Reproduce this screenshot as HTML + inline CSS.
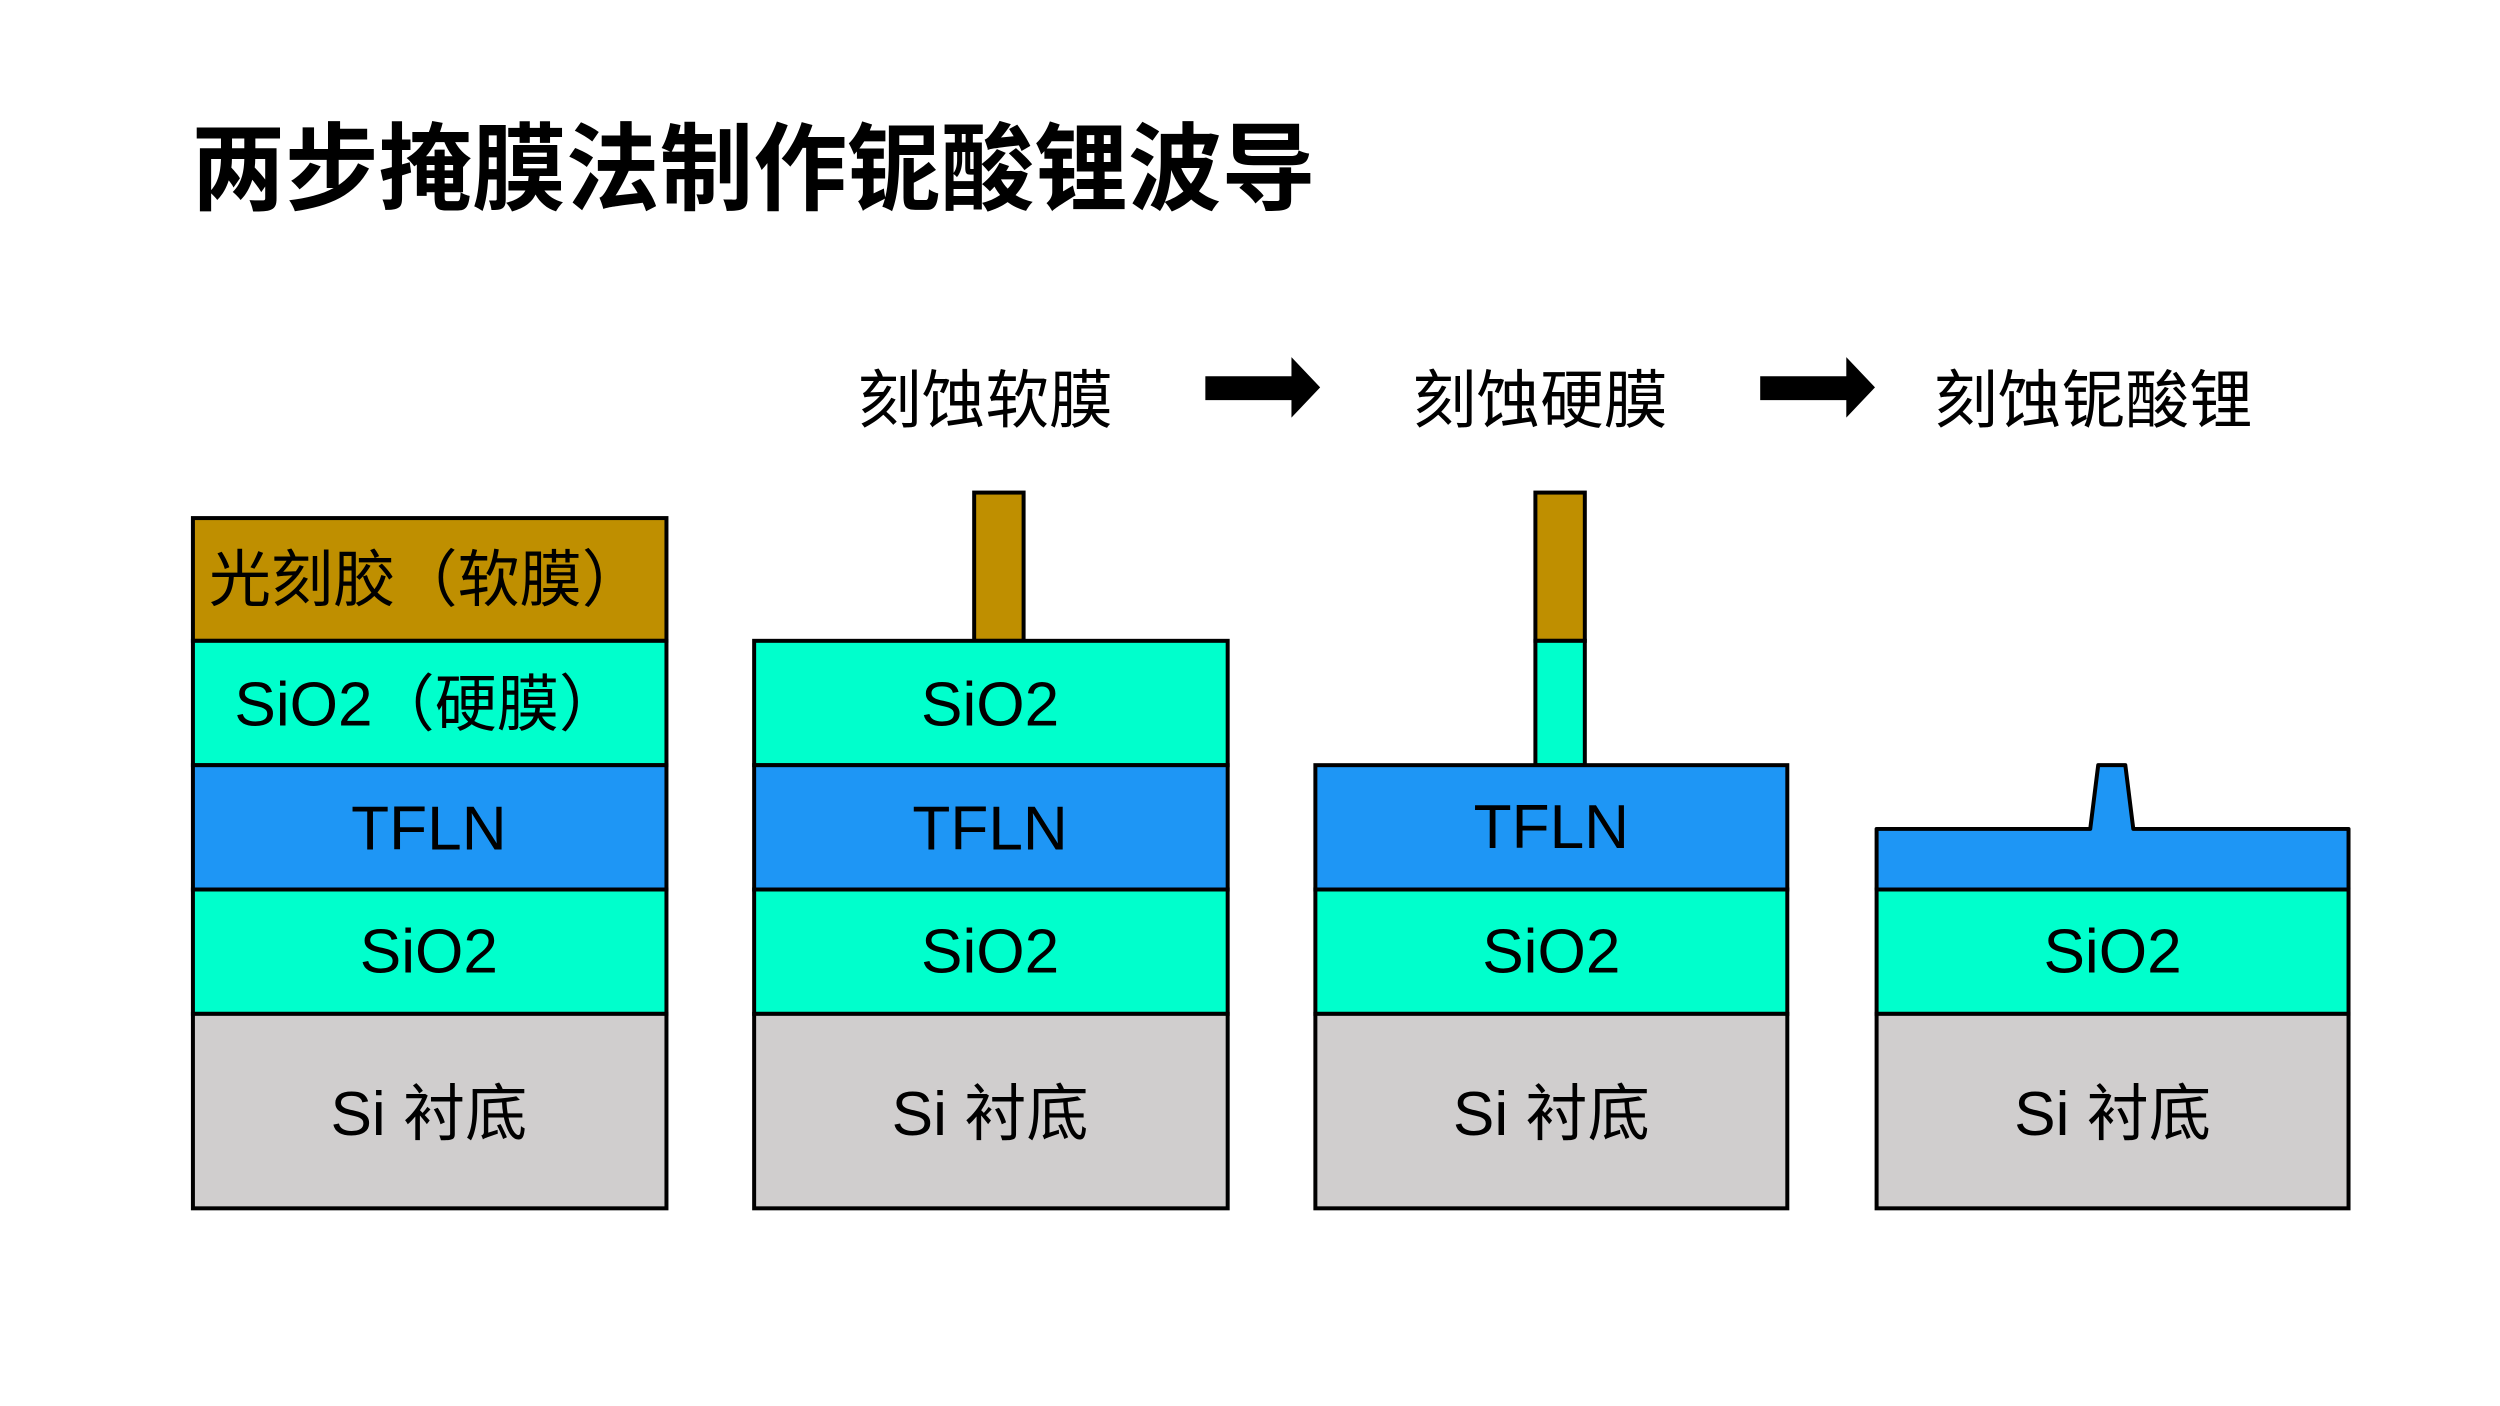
<!DOCTYPE html>
<html><head><meta charset="utf-8"><style>
html,body{margin:0;padding:0;background:#fff;}
svg{display:block;}
text{font-family:"Liberation Sans","Noto Sans CJK SC",sans-serif;}
</style></head><body>
<svg width="2500" height="1406" viewBox="0 0 1568 882" preserveAspectRatio="none" xmlns="http://www.w3.org/2000/svg">
<rect width="1568" height="882" fill="#fff"/>
<text x="120" y="127" font-size="60" font-weight="bold" textLength="705" lengthAdjust="spacingAndGlyphs" fill="#000">两步掩膜法制作铌酸锂波导</text>

<g font-size="40" fill="#000" text-anchor="middle">
<text x="618" y="265">刻蚀软膜</text>
<text x="966" y="265">刻蚀硬膜</text>
<text x="1313" y="265">刻蚀铌酸锂</text>
</g>
<polygon points="756,236 810,236 810,224 828,243 810,262 810,251 756,251" fill="#000"/>
<polygon points="1104,236 1158,236 1158,224 1176,243 1158,262 1158,251 1104,251" fill="#000"/>

<g stroke="#000" stroke-width="2.5">
<rect x="121" y="325" width="297" height="77" fill="#bf8f00"/>
<rect x="121" y="402" width="297" height="78" fill="#00ffcc"/>
<rect x="121" y="480" width="297" height="78" fill="#1e96f5"/>
<rect x="121" y="558" width="297" height="78" fill="#00ffcc"/>
<rect x="121" y="636" width="297" height="122" fill="#d0cece"/>
<rect x="611" y="309" width="31" height="93" fill="#bf8f00"/>
<rect x="473" y="402" width="297" height="78" fill="#00ffcc"/>
<rect x="473" y="480" width="297" height="78" fill="#1e96f5"/>
<rect x="473" y="558" width="297" height="78" fill="#00ffcc"/>
<rect x="473" y="636" width="297" height="122" fill="#d0cece"/>
<rect x="963" y="309" width="31" height="93" fill="#bf8f00"/>
<rect x="963" y="402" width="31" height="78" fill="#00ffcc"/>
<rect x="825" y="480" width="296" height="78" fill="#1e96f5"/>
<rect x="825" y="558" width="296" height="78" fill="#00ffcc"/>
<rect x="825" y="636" width="296" height="122" fill="#d0cece"/>
<polygon points="1177,520 1311,520 1316,480 1333,480 1338,520 1473,520 1473,558 1177,558" fill="#1e96f5" stroke-linejoin="round"/>
<rect x="1177" y="558" width="296" height="78" fill="#00ffcc"/>
<rect x="1177" y="636" width="296" height="122" fill="#d0cece"/>
</g>

<g font-size="39" fill="#000">
<text x="131" y="377">光刻胶（软膜）</text>
<text x="147" y="455">SiO2（硬膜）</text>
</g>
<g font-size="39" fill="#000" text-anchor="middle">
<text x="269" y="533">TFLN</text>
<text x="269" y="610">SiO2</text>
<text x="269" y="712">Si 衬底</text>
<text x="621" y="455">SiO2</text>
<text x="621" y="533">TFLN</text>
<text x="621" y="610">SiO2</text>
<text x="621" y="712">Si 衬底</text>
<text x="973" y="532">TFLN</text>
<text x="973" y="610">SiO2</text>
<text x="973" y="712">Si 衬底</text>
<text x="1325" y="610">SiO2</text>
<text x="1325" y="712">Si 衬底</text>
</g>
</svg>
</body></html>
